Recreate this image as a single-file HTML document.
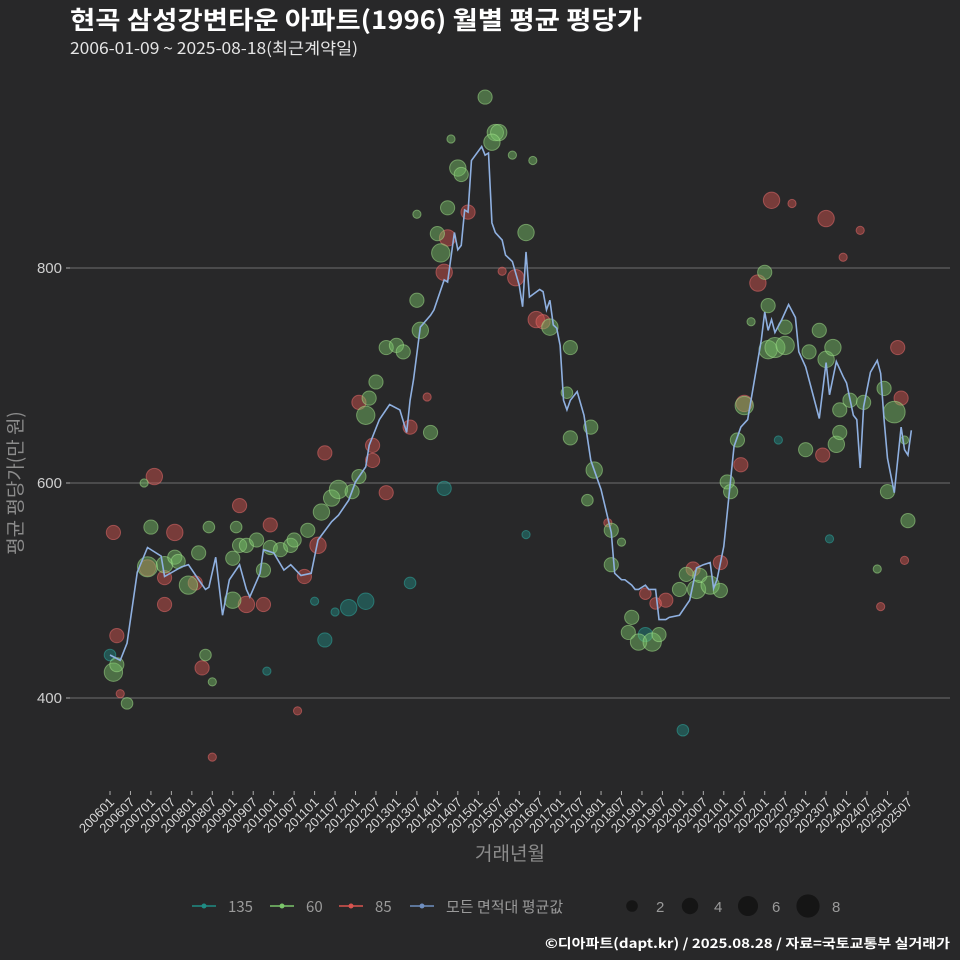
<!DOCTYPE html>
<html><head><meta charset="utf-8">
<style>
html,body{margin:0;padding:0;background:#282829;}
svg{display:block;font-family:"Liberation Sans","Noto Sans CJK KR",sans-serif;}
</style></head>
<body>
<svg id="chart" width="960" height="960" viewBox="0 0 960 960">
<rect x="0" y="0" width="960" height="960" fill="#282829"/>
<text x="70" y="29" fill="#ffffff" font-size="25" font-weight="bold" textLength="572" lengthAdjust="spacingAndGlyphs" font-family="'Noto Sans CJK KR',sans-serif">현곡 삼성강변타운 아파트(1996) 월별 평균 평당가</text>
<text x="70" y="54" fill="#e6e6e6" font-size="16" textLength="288" lengthAdjust="spacingAndGlyphs" font-family="'Noto Sans CJK KR',sans-serif">2006-01-09 ~ 2025-08-18(최근계약일)</text>
<g id="grid"></g>
<g id="points"></g>
<g id="line"></g>
<g id="xaxis"></g>
<text x="510" y="860" fill="#8c8c8c" font-size="19" text-anchor="middle" font-family="'Noto Sans CJK KR',sans-serif">거래년월</text>
<text transform="translate(22,483) rotate(-90)" fill="#8c8c8c" font-size="19" text-anchor="middle" font-family="'Noto Sans CJK KR',sans-serif">평균 평당가(만 원)</text>
<g id="legend"></g>
<text x="950" y="948" fill="#ffffff" font-size="13" font-weight="bold" text-anchor="end" textLength="405" lengthAdjust="spacingAndGlyphs" font-family="'Noto Sans CJK KR',sans-serif">©디아파트(dapt.kr) / 2025.08.28 / 자료=국토교통부 실거래가</text>
</svg>
<script>
// month index 0 = 2006-01
const lineMonths=[0,3,5,8,11,15,16,21,23,26,28,29,31,33,35,38,40,41,44,45,48,51,53,56,59,61,65,67,70,72,75,76,79,82,85,87,88,89,91,94,95,98,99,101,102,103,104,105,106,109,110,111,112,113,115,116,118,120,121,122,123,126,127,128,129,130,131,132,133,134,135,137,139,141,144,147,148,150,151,153,154,155,157,158,160,161,163,164,167,170,172,174,176,177,178,180,181,183,185,187,189,191,192,193,194,195,197,199,201,202,204,205,208,210,211,213,215,216,218,219,220,221,223,225,226,227,228,230,232,233,234,235];
const lineValues=[440,435,451,517,540,532,513,522,524,510,501,503,531,477,510,524,501,494,516,538,535,519,524,514,516,547,564,570,584,601,615,635,659,673,668,647,677,696,745,756,761,789,787,833,817,821,854,852,900,913,905,907,842,833,826,812,806,784,764,815,773,780,778,761,770,747,744,728,677,668,677,685,663,621,594,554,516,510,510,505,501,501,505,501,501,473,473,475,477,491,521,524,526,502,510,541,572,634,652,659,696,733,759,742,752,740,752,766,754,722,708,696,660,712,682,713,699,693,663,659,614,671,703,714,702,659,623,591,652,631,626,649];
const s60=[[1,424,5],[2,431,3],[5,395,2],[12,559,3],[11,522,6],[16,524,4],[19,531,3],[20,527,3],[23,505,5],[26,535,3],[29,559,2],[28,440,2],[36,530,3],[37,559,2],[36,491,4],[38,542,3],[40,542,3],[43,547,3],[45,519,3],[47,540,3],[50,538,3],[53,542,3],[54,547,3],[58,556,3],[62,573,4],[65,586,4],[67,594,5],[71,592,3],[73,606,3],[75,663,5],[76,679,3],[78,694,3],[81,726,3],[84,728,3],[86,722,3],[90,770,3],[91,742,4],[94,647,3],[96,832,3],[97,814,5],[99,856,3],[102,893,4],[103,887,3],[110,959,3],[113,926,4],[114,926,4],[112,917,4],[122,833,4],[129,745,4],[135,726,3],[134,684,2],[135,642,3],[140,584,2],[141,652,3],[142,612,4],[147,556,3],[147,524,3],[152,461,3],[153,475,3],[155,452,4],[159,452,5],[161,459,3],[167,501,3],[169,515,3],[172,501,5],[173,514,3],[176,505,5],[179,500,3],[181,601,3],[182,592,3],[184,640,3],[186,672,5],[192,796,3],[193,765,3],[193,724,5],[195,726,6],[198,728,5],[198,745,3],[205,722,3],[208,742,3],[210,715,4],[212,726,4],[204,631,3],[213,636,4],[214,668,3],[214,647,3],[217,677,3],[221,675,3],[227,688,3],[230,666,7],[228,592,3],[234,565,3],[10,600,1],[30,415,1],[90,850,1],[100,920,1],[118,905,1],[124,900,1],[150,545,1],[188,750,1],[225,520,1],[233,640,1]];
const s85=[[2,458,3],[3,404,1],[1,554,3],[11,521,4],[13,606,4],[16,512,3],[19,554,4],[16,487,3],[25,507,3],[27,428,3],[38,579,3],[40,487,4],[45,487,3],[47,561,3],[57,513,3],[61,542,4],[63,628,3],[73,675,3],[77,635,3],[77,621,3],[81,591,3],[88,652,3],[99,828,4],[98,796,4],[105,852,3],[119,791,4],[125,752,4],[127,750,3],[185,617,3],[186,674,4],[190,786,4],[194,863,4],[210,846,4],[209,626,3],[231,726,3],[232,679,3],[179,526,3],[171,520,3],[163,491,3],[160,488,2],[157,497,2],[30,345,1],[55,388,1],[93,680,1],[115,797,1],[146,563,1],[200,860,1],[215,810,1],[220,835,1],[226,485,1],[233,528,1]];
const s135=[[0,440,2],[63,454,3],[70,484,4],[75,490,4],[98,595,3],[88,507,2],[60,490,1],[66,480,1],[122,552,1],[157,459,3],[168,370,2],[196,640,1],[211,548,1],[46,425,1]];
const yTicks=[400,600,800];
const xTickLabels=[];for(let y=2006;y<=2025;y++){xTickLabels.push(y+'01');xTickLabels.push(y+'07');}
const legendItems=['135','60','85','모든 면적대 평균값'];
const sizeLegend=[2,4,6,8];

const NS='http://www.w3.org/2000/svg';
const X=m=>110+m*3.41;
const Y=v=>268+(800-v)*1.075;
const R=n=>4.1*Math.sqrt(n);
function mk(tag,at,parent){const e=document.createElementNS(NS,tag);for(const k in at)e.setAttribute(k,at[k]);parent.appendChild(e);return e;}
const grid=document.getElementById('grid');
yTicks.forEach(t=>{
  const l=mk('line',{x1:70,x2:950,y1:Y(t),y2:Y(t),stroke:'#6e6e6e','stroke-width':1},grid);
  
  
  const tk=mk('line',{x1:66,x2:70,y1:Y(t),y2:Y(t),stroke:'#aaaaaa'},grid);
  
  
  const tx=mk('text',{x:62,y:Y(t)+5,fill:'#cfcfcf','font-size':15,'text-anchor':'end'},grid);
  
  
  tx.textContent=t;
});
const xa=document.getElementById('xaxis');
xTickLabels.slice(0,40).forEach((lab,i)=>{
  const x=X(i*6);
  const tk=mk('line',{x1:x,x2:x,y1:791,y2:795,stroke:'#aaaaaa'},xa);
  
  
  const t=mk('text',{transform:`translate(${x+5},${803}) rotate(-45)`,fill:'#d8d8d8','font-size':13,'text-anchor':'end'},xa);
  
  
  t.textContent=lab;
});
const pts=document.getElementById('points');
function series(arr,fill,stroke,name){
  arr.forEach(d=>{
    const c=mk('circle',{cx:X(d[0]),cy:Y(d[1]),r:R(d[2]),fill:fill,'fill-opacity':0.45,stroke:stroke,'stroke-opacity':0.5,'stroke-width':1},pts);
    
    
  });
}
series(s135,'#1f8c84','#2fb0a6','point-135');
series(s85,'#d9544f','#f07070','point-85');
series(s60,'#7bc66a','#a8e890','point-60');
const lg=document.getElementById('line');
const p=mk('polyline',{points:lineMonths.map((m,i)=>X(m)+','+Y(lineValues[i])).join(' '),fill:'none',stroke:'#8fb0e0','stroke-width':1.6},lg);


const leg=document.getElementById('legend');
const lcol=['#1f8c84','#7bc66a','#d9544f','#6f8fc0'];
const lx=[192,270,339,410];
legendItems.forEach((t,i)=>{
  const g=mk('g',{},leg);
  
  
  mk('line',{x1:lx[i],x2:lx[i]+24,y1:906,y2:906,stroke:lcol[i],'stroke-width':1.5},g);
  mk('circle',{cx:lx[i]+12,cy:906,r:2.5,fill:lcol[i]},g);
  const tx=mk('text',{x:lx[i]+36,y:912,fill:'#9a9a9a','font-size':15,'font-family':"'Noto Sans CJK KR',sans-serif"},g);
  tx.textContent=t;
});
const sx=[632,690,748,808];
sizeLegend.forEach((n,i)=>{
  const g=mk('g',{},leg);
  
  
  mk('circle',{cx:sx[i],cy:906,r:R(n),fill:'#151515'},g);
  const tx=mk('text',{x:sx[i]+24,y:912,fill:'#9a9a9a','font-size':15},g);
  tx.textContent=n;
});
</script>
</body></html>
